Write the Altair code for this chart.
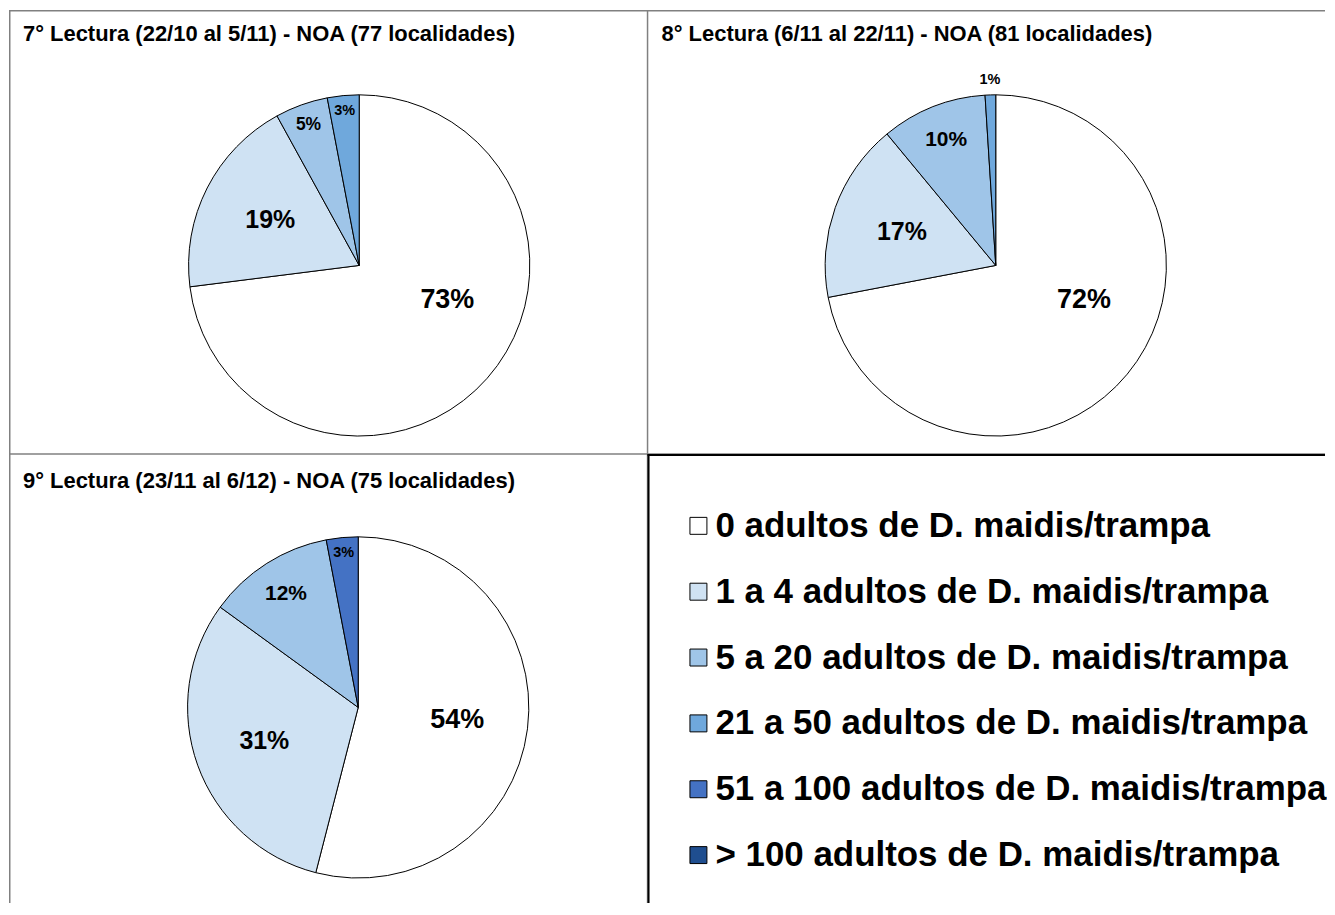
import altair as alt
import pandas as pd

# ---- data ----
categories = [
    "0 adultos de D. maidis/trampa",
    "1 a 4 adultos de D. maidis/trampa",
    "5 a 20 adultos de D. maidis/trampa",
    "21 a 50 adultos de D. maidis/trampa",
    "51 a 100 adultos de D. maidis/trampa",
    "> 100 adultos de D. maidis/trampa",
]
colors = ["#ffffff", "#cfe2f3", "#9fc5e8", "#6fa8dc", "#4472c4", "#1f4e8f"]

titles = [
    "7° Lectura (22/10 al 5/11) - NOA (77 localidades)",
    "8° Lectura (6/11 al 22/11) - NOA (81 localidades)",
    "9° Lectura (23/11 al 6/12) - NOA (75 localidades)",
]
lectura7 = [73, 19, 5, 3, 0, 0]
lectura8 = [72, 17, 10, 1, 0, 0]
lectura9 = [54, 31, 12, 0, 3, 0]

FONT = "Liberation Sans"
GREY = "#808080"
color_scale = alt.Scale(domain=categories, range=colors)


def rule(x, x2, y, y2, color=GREY, width=1.5):
    return alt.Chart(alt.Data(values=[{}])).mark_rule(color=color, strokeWidth=width).encode(
        x=alt.value(x), x2=alt.value(x2), y=alt.value(y), y2=alt.value(y2)
    )


def pie(vals, title, cx, cy, W, H, ty, borders):
    df = pd.DataFrame({"cat": categories, "value": vals, "idx": list(range(len(categories)))})
    arc = alt.Chart(df).transform_filter("datum.value > 0").mark_arc(
        outerRadius=171, stroke="black", strokeWidth=1
    ).encode(
        theta=alt.Theta("value:Q", stack=True),
        order=alt.Order("idx:Q", sort="ascending"),
        color=alt.Color("cat:N", scale=color_scale, legend=None),
        x=alt.value(cx),
        y=alt.value(cy),
    )
    text = alt.Chart(df).transform_filter("datum.value > 0").transform_window(
        cum="sum(value)", sort=[alt.SortField("idx", order="ascending")], frame=[None, 0]
    ).transform_joinaggregate(total="sum(value)").transform_calculate(
        mid="2 * PI * (datum.cum - datum.value / 2) / datum.total",
    ).transform_calculate(
        ang="datum.idx == 0 ? min(datum.mid, 0.62 * PI) : datum.mid",
        lab="datum.value + '%'",
        lr="datum.value >= 60 ? 95 : datum.value >= 15 ? 100 : datum.value >= 8 ? 135 : datum.value >= 4 ? 150 : datum.value >= 2 ? 155 : 186",
        fs="datum.value >= 50 ? 27 : datum.value >= 15 ? 25 : datum.value >= 10 ? 21 : datum.value >= 4 ? 17.5 : 14.5",
    ).mark_text(font=FONT, fontWeight="bold", color="black", baseline="middle").encode(
        text=alt.Text("lab:N"),
        theta=alt.Theta("ang:Q", scale=None),
        radius=alt.Radius("lr:Q", scale=None),
        size=alt.Size("fs:Q", scale=None),
        x=alt.value(cx),
        y=alt.value(cy),
    )
    ttl = alt.Chart(alt.Data(values=[{"t": title}])).mark_text(
        font=FONT, fontWeight="bold", fontSize=22, align="left", baseline="middle", color="black"
    ).encode(text="t:N", x=alt.value(14), y=alt.value(ty))
    layers = [arc, text, ttl] + [rule(*b) for b in borders]
    return alt.layer(*layers).properties(width=W, height=H)


W1, W2 = 640, 679
H1, H2 = 445, 450

p1 = pie(lectura7, titles[0], 351, 256, W1, H1, 24,
         [(0, W1, 0.75, 0.75), (0.75, 0.75, 0, H1), (W1, W1, 0, H1), (0, W1, H1, H1)])
p2 = pie(lectura8, titles[1], 349, 256, W2, H1, 24,
         [(0, W2, 0.75, 0.75), (0, W2, H1, H1)])
p3 = pie(lectura9, titles[2], 350, 254, W1, H2, 27,
         [(0.75, 0.75, 0, H2), (W1, W1, 0, H2)])

leg_df = pd.DataFrame({"cat": categories})
leg_y = alt.Y("cat:N", sort=categories, axis=None,
              scale=alt.Scale(domain=categories, range=[72, 402], padding=0))
leg_sq = alt.Chart(leg_df).mark_square(size=289, stroke="black", strokeWidth=1, opacity=1).encode(
    y=leg_y, x=alt.value(51),
    color=alt.Color("cat:N", scale=color_scale, legend=None),
)
leg_tx = alt.Chart(leg_df).mark_text(
    font=FONT, fontWeight="bold", fontSize=35, align="left", baseline="middle", color="black"
).encode(y=leg_y, x=alt.value(68), text="cat:N")
leg = alt.layer(leg_sq, leg_tx, rule(0, W2, 1, 1, "black", 2), rule(1, 1, 0, H2, "black", 2)).properties(
    width=W2, height=H2
)

chart = alt.concat(
    p1, p2, p3, leg, columns=2, spacing=0, bounds="flush", align="each"
).properties(padding=0, background="white").configure_view(stroke=None)

chart.save("out.html", embed_options={"renderer": "svg", "actions": False})
